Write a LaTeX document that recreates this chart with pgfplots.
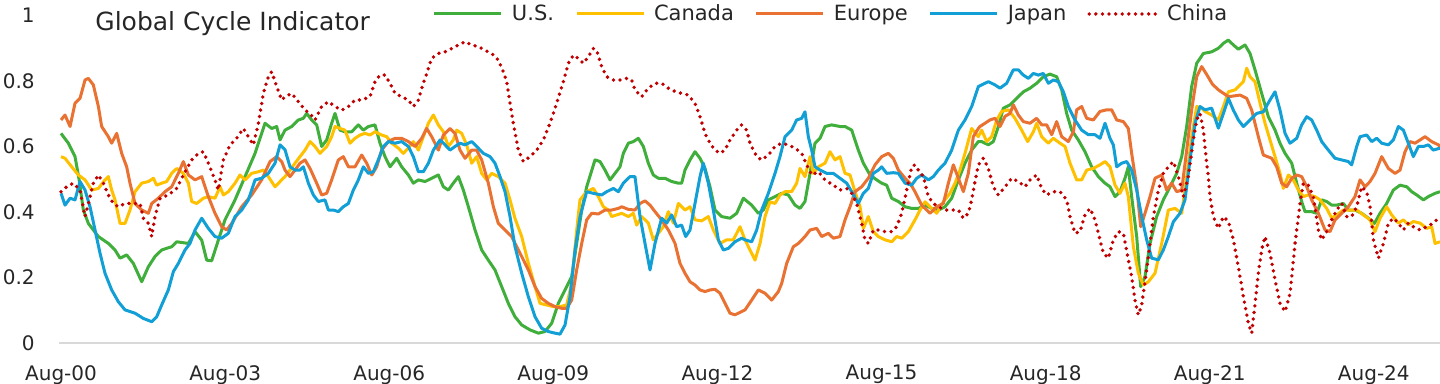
\documentclass[border=0pt]{standalone}
\usepackage{pgfplots}
\pgfplotsset{compat=1.18}
\usepackage{fontspec}
\setmainfont{DejaVu Sans}
\definecolor{cUS}{HTML}{3FAE3A}
\definecolor{cCA}{HTML}{FFC000}
\definecolor{cEU}{HTML}{E97132}
\definecolor{cJP}{HTML}{119FD6}
\definecolor{cCN}{HTML}{C00000}
\definecolor{cAx}{HTML}{D9D9D9}
\begin{document}
\begin{tikzpicture}
\useasboundingbox (0,0) rectangle (720pt,192pt);
\begin{axis}[
  at={(29.5pt,20.5pt)}, anchor=south west,
  scale only axis, width=690.5pt, height=163.75pt,
  xmin=-0.037, xmax=25.21, ymin=0, ymax=1,
  axis x line*=bottom, axis y line*=left,
  x axis line style={draw=cAx, line width=1.15pt},
  y axis line style={draw=none},
  major tick length=0pt, tick style={draw=none},
  xtick={0,3,6,9,12,15,18,21,24},
  xticklabels={Aug-00,Aug-03,Aug-06,Aug-09,Aug-12,Aug-15,Aug-18,Aug-21,Aug-24},
  ytick={0,0.2,0.4,0.6,0.8,1},
  yticklabels={0,0.2,0.4,0.6,0.8,1},
  xticklabel style={font=\fontsize{10pt}{12pt}\selectfont, inner sep=0pt, anchor=north, yshift=-11pt, text=black!85},
  yticklabel style={font=\fontsize{10pt}{12pt}\selectfont, inner sep=0pt, anchor=east, xshift=-12pt, text=black!85},
  clip=false,
  legend columns=-1,
  legend style={at={(axis description cs:0.2708,1.0046)}, anchor=west, draw=none, fill=none,
    inner sep=0pt, outer sep=0pt,
    font=\fontsize{10.5pt}{12pt}\selectfont, text=black!85,
    nodes={inner sep=0pt},
    /tikz/every odd column/.style={column sep=4.5pt},
    /tikz/every even column/.style={column sep=10.5pt}},
  legend image code/.code={\draw[#1] (0pt,0pt) -- (33.5pt,0pt);},
  every axis plot/.append style={line width=1.5pt, line join=round},
]
% U.S.
\addplot[color=cUS, sharp plot] table {
0 0.640
0.134 0.610
0.256 0.569
0.33 0.50
0.408 0.406
0.50 0.365
0.683 0.325
0.865 0.304
0.987 0.284
1.079 0.259
1.20 0.269
1.322 0.243
1.475 0.187
1.597 0.233
1.718 0.264
1.84 0.284
2.023 0.294
2.115 0.309
2.328 0.304
2.45 0.340
2.572 0.314
2.663 0.253
2.754 0.251
2.876 0.314
2.998 0.376
3.181 0.437
3.364 0.508
3.547 0.579
3.729 0.671
3.851 0.655
3.943 0.661
4.004 0.620
4.095 0.650
4.217 0.661
4.339 0.681
4.43 0.686
4.49 0.701
4.583 0.681
4.674 0.666
4.765 0.600
4.857 0.620
4.948 0.671
5.009 0.701
5.100 0.650
5.19 0.645
5.314 0.645
5.436 0.666
5.527 0.650
5.619 0.661
5.74 0.666
5.832 0.610
5.923 0.569
6.015 0.538
6.137 0.564
6.228 0.538
6.35 0.513
6.441 0.488
6.533 0.498
6.655 0.493
6.776 0.503
6.898 0.513
6.99 0.477
7.081 0.467
7.172 0.488
7.264 0.508
7.355 0.467
7.447 0.416
7.569 0.345
7.69 0.284
7.812 0.253
7.934 0.223
8.056 0.172
8.178 0.121
8.30 0.080
8.422 0.055
8.574 0.040
8.727 0.030
8.848 0.035
8.97 0.060
9.092 0.121
9.214 0.162
9.336 0.203
9.427 0.304
9.519 0.406
9.61 0.477
9.762 0.559
9.854 0.554
9.945 0.528
10.037 0.498
10.128 0.518
10.219 0.538
10.28 0.579
10.371 0.610
10.463 0.615
10.554 0.625
10.646 0.600
10.737 0.549
10.828 0.513
10.92 0.503
11.042 0.503
11.164 0.493
11.286 0.488
11.346 0.488
11.407 0.528
11.499 0.559
11.59 0.584
11.682 0.564
11.773 0.533
11.864 0.477
11.956 0.406
12.078 0.386
12.23 0.381
12.352 0.396
12.474 0.442
12.626 0.421
12.748 0.396
12.839 0.406
12.931 0.437
13.053 0.447
13.175 0.457
13.297 0.452
13.418 0.421
13.51 0.411
13.601 0.432
13.693 0.518
13.784 0.610
13.876 0.625
13.967 0.661
14.089 0.666
14.241 0.661
14.333 0.661
14.455 0.650
14.576 0.589
14.668 0.549
14.79 0.513
14.912 0.498
15.003 0.488
15.094 0.482
15.186 0.442
15.308 0.432
15.43 0.416
15.551 0.411
15.673 0.411
15.795 0.421
15.917 0.411
16.039 0.406
16.161 0.416
16.283 0.442
16.405 0.498
16.526 0.549
16.648 0.589
16.77 0.615
16.831 0.615
16.953 0.605
17.044 0.615
17.136 0.661
17.227 0.717
17.349 0.727
17.471 0.747
17.593 0.767
17.715 0.778
17.836 0.793
17.958 0.813
18.08 0.821
18.202 0.813
18.294 0.773
18.385 0.701
18.476 0.650
18.598 0.620
18.72 0.584
18.842 0.538
18.964 0.508
19.086 0.488
19.177 0.477
19.269 0.447
19.36 0.462
19.451 0.503
19.512 0.538
19.573 0.447
19.665 0.325
19.738 0.172
19.817 0.203
19.909 0.304
20.03 0.386
20.152 0.437
20.274 0.477
20.396 0.518
20.488 0.569
20.579 0.661
20.67 0.783
20.762 0.854
20.884 0.884
21.036 0.889
21.158 0.900
21.25 0.915
21.341 0.925
21.432 0.910
21.524 0.897
21.645 0.910
21.737 0.884
21.828 0.834
21.95 0.762
22.072 0.691
22.194 0.650
22.285 0.610
22.377 0.579
22.499 0.549
22.59 0.488
22.681 0.432
22.742 0.401
22.864 0.401
22.956 0.396
23.047 0.437
23.138 0.432
23.23 0.421
23.321 0.421
23.443 0.426
23.534 0.406
23.656 0.406
23.778 0.396
23.9 0.381
24.01 0.365
24.114 0.396
24.235 0.426
24.357 0.467
24.479 0.482
24.601 0.477
24.692 0.462
24.784 0.452
24.906 0.437
24.997 0.447
25.119 0.457
25.21 0.462
};
\addlegendentry{U.S.}
% Canada
\addplot[color=cCA, sharp plot] table {
0 0.569
0.073 0.564
0.195 0.538
0.317 0.513
0.439 0.498
0.561 0.467
0.683 0.472
0.804 0.498
0.865 0.508
0.926 0.467
0.987 0.437
1.079 0.365
1.17 0.365
1.261 0.406
1.353 0.462
1.475 0.488
1.597 0.493
1.688 0.503
1.749 0.482
1.84 0.488
1.932 0.493
2.023 0.518
2.115 0.533
2.236 0.518
2.328 0.488
2.389 0.432
2.48 0.426
2.602 0.442
2.693 0.447
2.815 0.442
2.907 0.477
2.968 0.452
3.059 0.462
3.181 0.488
3.272 0.513
3.364 0.498
3.486 0.518
3.608 0.523
3.699 0.528
3.79 0.508
3.912 0.477
4.034 0.498
4.095 0.508
4.186 0.528
4.278 0.549
4.369 0.569
4.461 0.589
4.552 0.615
4.643 0.600
4.735 0.579
4.857 0.600
4.948 0.630
5.009 0.661
5.1 0.655
5.19 0.650
5.283 0.610
5.375 0.625
5.466 0.635
5.558 0.640
5.649 0.635
5.74 0.645
5.862 0.635
5.954 0.630
6.045 0.610
6.167 0.595
6.258 0.579
6.35 0.595
6.441 0.615
6.533 0.589
6.624 0.630
6.716 0.671
6.807 0.696
6.898 0.666
6.99 0.645
7.081 0.600
7.172 0.620
7.233 0.650
7.325 0.640
7.416 0.605
7.508 0.549
7.599 0.569
7.69 0.518
7.782 0.498
7.873 0.518
7.995 0.508
8.117 0.488
8.208 0.437
8.30 0.380
8.422 0.325
8.544 0.243
8.666 0.172
8.757 0.121
8.879 0.116
9.0 0.111
9.122 0.111
9.244 0.116
9.336 0.182
9.427 0.345
9.488 0.437
9.61 0.462
9.732 0.472
9.823 0.447
9.915 0.416
10.006 0.406
10.067 0.386
10.158 0.391
10.25 0.396
10.371 0.386
10.463 0.396
10.524 0.360
10.615 0.386
10.737 0.366
10.828 0.315
10.92 0.335
11.011 0.355
11.103 0.401
11.194 0.366
11.286 0.426
11.407 0.406
11.499 0.416
11.59 0.376
11.712 0.373
11.834 0.386
11.925 0.345
12.047 0.304
12.169 0.315
12.291 0.315
12.413 0.355
12.504 0.315
12.596 0.284
12.687 0.253
12.779 0.304
12.87 0.386
12.961 0.431
13.053 0.426
13.144 0.452
13.236 0.462
13.357 0.462
13.449 0.488
13.51 0.533
13.601 0.508
13.693 0.569
13.754 0.518
13.845 0.538
13.967 0.549
14.058 0.584
14.15 0.559
14.241 0.569
14.333 0.518
14.424 0.513
14.515 0.462
14.607 0.416
14.668 0.350
14.759 0.386
14.85 0.340
14.942 0.325
15.064 0.315
15.186 0.309
15.277 0.325
15.369 0.320
15.49 0.340
15.612 0.376
15.704 0.406
15.795 0.431
15.887 0.416
16.009 0.396
16.13 0.431
16.252 0.457
16.344 0.488
16.435 0.528
16.526 0.579
16.648 0.655
16.77 0.630
16.831 0.650
16.922 0.615
17.014 0.630
17.105 0.681
17.197 0.707
17.319 0.712
17.44 0.686
17.562 0.650
17.672 0.615
17.776 0.645
17.836 0.671
17.928 0.630
18.05 0.610
18.141 0.625
18.263 0.610
18.355 0.600
18.446 0.549
18.568 0.498
18.659 0.498
18.751 0.528
18.872 0.533
18.994 0.544
19.086 0.554
19.177 0.538
19.269 0.482
19.36 0.457
19.451 0.488
19.512 0.447
19.604 0.294
19.695 0.213
19.787 0.177
19.878 0.187
20.0 0.213
20.122 0.304
20.244 0.406
20.366 0.411
20.488 0.396
20.579 0.508
20.67 0.630
20.762 0.722
20.853 0.717
20.914 0.707
21.036 0.696
21.158 0.681
21.25 0.722
21.341 0.767
21.463 0.773
21.554 0.788
21.615 0.798
21.676 0.839
21.737 0.813
21.828 0.798
21.92 0.732
22.011 0.671
22.102 0.620
22.194 0.569
22.285 0.518
22.346 0.472
22.438 0.513
22.529 0.498
22.62 0.467
22.712 0.447
22.803 0.452
22.925 0.447
23.017 0.437
23.138 0.411
23.23 0.381
23.321 0.391
23.443 0.406
23.565 0.406
23.687 0.406
23.809 0.391
23.931 0.376
24.022 0.340
24.114 0.381
24.235 0.416
24.327 0.391
24.449 0.366
24.54 0.376
24.631 0.361
24.723 0.371
24.845 0.366
24.967 0.350
25.058 0.355
25.119 0.304
25.21 0.309
};
\addlegendentry{Canada}
% Europe
\addplot[color=cEU, sharp plot] table {
0 0.681
0.073 0.696
0.165 0.661
0.256 0.732
0.347 0.747
0.439 0.803
0.50 0.808
0.591 0.788
0.683 0.722
0.743 0.661
0.865 0.630
0.926 0.610
1.018 0.640
1.109 0.579
1.20 0.538
1.261 0.488
1.353 0.426
1.475 0.406
1.597 0.396
1.658 0.426
1.779 0.442
1.901 0.462
2.023 0.477
2.145 0.518
2.236 0.554
2.328 0.513
2.45 0.498
2.572 0.508
2.693 0.447
2.815 0.396
2.937 0.355
3.029 0.345
3.12 0.365
3.303 0.416
3.486 0.452
3.668 0.498
3.821 0.554
3.943 0.569
4.034 0.554
4.095 0.528
4.186 0.508
4.278 0.528
4.369 0.549
4.461 0.559
4.552 0.533
4.674 0.488
4.765 0.452
4.857 0.457
4.948 0.498
5.07 0.559
5.161 0.569
5.253 0.538
5.375 0.538
5.497 0.574
5.588 0.549
5.68 0.513
5.771 0.538
5.862 0.589
5.984 0.615
6.106 0.625
6.228 0.625
6.35 0.615
6.472 0.600
6.594 0.625
6.685 0.655
6.776 0.630
6.898 0.589
6.99 0.635
7.111 0.655
7.203 0.640
7.294 0.589
7.386 0.564
7.508 0.589
7.599 0.589
7.69 0.559
7.812 0.488
7.904 0.416
7.995 0.365
8.117 0.345
8.239 0.325
8.30 0.304
8.422 0.264
8.544 0.223
8.666 0.172
8.787 0.136
8.909 0.121
9.031 0.111
9.153 0.106
9.244 0.106
9.336 0.131
9.427 0.223
9.519 0.304
9.61 0.376
9.701 0.396
9.823 0.394
9.945 0.406
10.067 0.406
10.189 0.411
10.25 0.416
10.371 0.408
10.493 0.406
10.585 0.426
10.676 0.434
10.768 0.421
10.859 0.401
10.98 0.376
11.103 0.345
11.225 0.304
11.316 0.243
11.407 0.213
11.499 0.187
11.59 0.177
11.682 0.162
11.773 0.157
11.864 0.162
11.956 0.164
12.047 0.152
12.139 0.121
12.23 0.091
12.32 0.086
12.443 0.096
12.505 0.101
12.626 0.131
12.748 0.162
12.87 0.152
12.992 0.131
13.114 0.157
13.175 0.182
13.266 0.243
13.388 0.294
13.48 0.304
13.601 0.325
13.693 0.345
13.815 0.350
13.906 0.325
14.028 0.335
14.119 0.320
14.241 0.325
14.333 0.376
14.424 0.416
14.515 0.462
14.637 0.477
14.759 0.503
14.881 0.544
15.003 0.569
15.125 0.579
15.216 0.564
15.308 0.528
15.43 0.503
15.521 0.488
15.612 0.462
15.734 0.421
15.887 0.396
16.009 0.416
16.13 0.426
16.222 0.488
16.313 0.544
16.405 0.503
16.496 0.462
16.587 0.518
16.678 0.630
16.77 0.655
16.8 0.661
16.892 0.671
16.983 0.681
17.075 0.686
17.166 0.661
17.258 0.692
17.349 0.701
17.41 0.727
17.501 0.696
17.593 0.676
17.715 0.671
17.836 0.686
17.928 0.666
18.019 0.666
18.111 0.636
18.202 0.676
18.294 0.630
18.415 0.615
18.507 0.645
18.568 0.712
18.659 0.722
18.751 0.686
18.872 0.681
18.994 0.707
19.116 0.712
19.208 0.712
19.299 0.681
19.421 0.676
19.512 0.655
19.573 0.579
19.665 0.477
19.738 0.355
19.817 0.396
19.909 0.447
20.0 0.503
20.122 0.513
20.213 0.467
20.305 0.488
20.396 0.462
20.488 0.467
20.579 0.589
20.67 0.712
20.762 0.813
20.853 0.844
20.944 0.820
21.05 0.790
21.158 0.773
21.341 0.752
21.554 0.757
21.676 0.747
21.767 0.711
21.889 0.630
21.98 0.574
22.133 0.564
22.224 0.538
22.316 0.488
22.407 0.477
22.499 0.503
22.59 0.513
22.681 0.508
22.773 0.477
22.864 0.437
22.986 0.396
23.108 0.345
23.199 0.340
23.291 0.376
23.413 0.396
23.534 0.416
23.656 0.447
23.748 0.498
23.839 0.477
23.931 0.493
24.022 0.518
24.144 0.569
24.266 0.533
24.388 0.518
24.479 0.528
24.57 0.584
24.662 0.615
24.753 0.610
24.845 0.620
24.936 0.630
25.058 0.615
25.18 0.605
25.21 0.600
};
\addlegendentry{Europe}
% Japan
\addplot[color=cJP, sharp plot] table {
0 0.457
0.073 0.421
0.165 0.442
0.256 0.437
0.347 0.493
0.439 0.467
0.53 0.416
0.622 0.345
0.713 0.274
0.804 0.213
0.926 0.162
1.048 0.126
1.17 0.101
1.353 0.091
1.505 0.075
1.658 0.065
1.749 0.080
1.84 0.116
1.962 0.162
2.054 0.218
2.145 0.243
2.267 0.284
2.358 0.304
2.45 0.345
2.572 0.381
2.693 0.350
2.815 0.325
2.937 0.320
3.059 0.335
3.181 0.386
3.303 0.406
3.425 0.437
3.547 0.498
3.668 0.503
3.79 0.518
3.912 0.549
4.004 0.605
4.095 0.590
4.186 0.538
4.278 0.528
4.369 0.528
4.43 0.538
4.522 0.488
4.613 0.452
4.704 0.432
4.826 0.437
4.887 0.406
4.978 0.406
5.07 0.401
5.161 0.416
5.253 0.426
5.344 0.467
5.436 0.498
5.527 0.538
5.619 0.518
5.71 0.523
5.80 0.559
5.893 0.600
5.984 0.615
6.106 0.610
6.228 0.615
6.35 0.600
6.441 0.569
6.533 0.523
6.624 0.523
6.716 0.549
6.807 0.589
6.929 0.620
7.02 0.605
7.111 0.589
7.203 0.600
7.294 0.610
7.386 0.605
7.508 0.615
7.599 0.600
7.721 0.579
7.843 0.569
7.934 0.549
8.026 0.508
8.117 0.462
8.208 0.386
8.30 0.294
8.422 0.213
8.544 0.141
8.666 0.080
8.787 0.045
8.909 0.035
9.031 0.030
9.122 0.027
9.214 0.055
9.305 0.141
9.397 0.284
9.488 0.386
9.61 0.462
9.732 0.457
9.884 0.452
9.976 0.462
10.098 0.472
10.189 0.462
10.28 0.488
10.402 0.508
10.493 0.508
10.585 0.386
10.676 0.304
10.768 0.223
10.859 0.304
10.98 0.381
11.072 0.366
11.164 0.391
11.255 0.355
11.346 0.360
11.42 0.325
11.499 0.345
11.59 0.426
11.682 0.508
11.742 0.549
11.834 0.488
11.925 0.406
12.017 0.315
12.108 0.284
12.2 0.289
12.32 0.309
12.443 0.320
12.505 0.315
12.626 0.309
12.718 0.345
12.809 0.406
12.931 0.457
13.053 0.518
13.144 0.569
13.236 0.630
13.357 0.650
13.449 0.681
13.541 0.686
13.601 0.706
13.662 0.630
13.723 0.589
13.784 0.538
13.876 0.528
13.997 0.518
14.119 0.518
14.241 0.503
14.363 0.488
14.455 0.462
14.576 0.426
14.668 0.457
14.759 0.472
14.85 0.518
14.942 0.528
15.003 0.538
15.094 0.518
15.216 0.520
15.308 0.518
15.43 0.488
15.551 0.482
15.643 0.503
15.734 0.513
15.856 0.498
15.947 0.508
16.039 0.528
16.161 0.549
16.283 0.589
16.405 0.650
16.526 0.681
16.648 0.722
16.77 0.783
16.831 0.788
16.953 0.798
17.075 0.788
17.166 0.778
17.288 0.793
17.41 0.834
17.501 0.834
17.593 0.818
17.684 0.808
17.776 0.823
17.867 0.818
17.958 0.823
18.05 0.793
18.141 0.803
18.233 0.798
18.324 0.767
18.415 0.722
18.537 0.681
18.659 0.650
18.781 0.636
18.903 0.636
18.994 0.625
19.086 0.671
19.177 0.625
19.238 0.605
19.299 0.538
19.391 0.549
19.482 0.554
19.573 0.528
19.665 0.467
19.756 0.386
19.848 0.315
19.939 0.259
20.061 0.254
20.152 0.284
20.244 0.325
20.335 0.370
20.457 0.396
20.548 0.437
20.64 0.559
20.731 0.671
20.822 0.722
20.914 0.712
21.036 0.717
21.158 0.656
21.25 0.701
21.341 0.747
21.432 0.711
21.524 0.681
21.615 0.661
21.737 0.681
21.859 0.701
21.98 0.706
22.102 0.742
22.194 0.767
22.285 0.711
22.377 0.640
22.468 0.610
22.59 0.625
22.681 0.666
22.773 0.691
22.864 0.681
22.956 0.650
23.047 0.615
23.169 0.589
23.291 0.564
23.413 0.559
23.534 0.554
23.595 0.544
23.687 0.600
23.748 0.630
23.87 0.635
23.961 0.615
24.053 0.625
24.144 0.610
24.266 0.605
24.357 0.620
24.449 0.661
24.54 0.650
24.631 0.610
24.723 0.569
24.814 0.600
24.906 0.600
24.997 0.605
25.088 0.589
25.21 0.595
};
\addlegendentry{Japan}
% China
\addplot[color=cCN, sharp plot, line width=1.9pt, line cap=round, dash pattern=on 0pt off 3.3pt] table {
0 0.462
0.104 0.477
0.225 0.488
0.347 0.467
0.439 0.386
0.50 0.426
0.591 0.488
0.683 0.513
0.774 0.488
0.865 0.452
0.957 0.426
1.048 0.416
1.17 0.426
1.353 0.426
1.444 0.426
1.505 0.381
1.597 0.365
1.658 0.325
1.718 0.386
1.81 0.442
1.962 0.452
2.115 0.472
2.236 0.513
2.389 0.559
2.511 0.579
2.602 0.584
2.693 0.549
2.815 0.498
2.876 0.467
2.968 0.559
3.09 0.605
3.211 0.625
3.333 0.655
3.425 0.630
3.516 0.605
3.608 0.671
3.699 0.762
3.79 0.813
3.851 0.828
3.943 0.783
4.034 0.742
4.095 0.752
4.217 0.762
4.339 0.737
4.461 0.711
4.552 0.701
4.643 0.681
4.765 0.722
4.887 0.737
5.009 0.722
5.131 0.711
5.253 0.722
5.375 0.742
5.497 0.742
5.649 0.752
5.74 0.798
5.832 0.818
5.923 0.818
6.015 0.793
6.106 0.762
6.228 0.752
6.35 0.742
6.441 0.722
6.533 0.742
6.594 0.778
6.685 0.823
6.776 0.869
6.898 0.884
7.02 0.889
7.142 0.899
7.264 0.910
7.386 0.920
7.508 0.910
7.63 0.905
7.751 0.894
7.873 0.884
7.995 0.864
8.087 0.828
8.148 0.798
8.208 0.732
8.269 0.671
8.361 0.589
8.452 0.554
8.574 0.569
8.696 0.589
8.818 0.620
8.94 0.671
9.061 0.732
9.183 0.798
9.275 0.854
9.366 0.879
9.458 0.869
9.549 0.854
9.64 0.874
9.732 0.899
9.793 0.894
9.884 0.844
9.976 0.813
10.098 0.803
10.219 0.803
10.341 0.808
10.432 0.803
10.493 0.773
10.615 0.752
10.737 0.778
10.859 0.793
10.98 0.793
11.103 0.778
11.225 0.768
11.346 0.762
11.468 0.757
11.59 0.732
11.682 0.691
11.773 0.640
11.864 0.610
11.956 0.589
12.047 0.579
12.139 0.589
12.23 0.620
12.352 0.650
12.443 0.666
12.535 0.650
12.596 0.610
12.718 0.569
12.809 0.559
12.931 0.574
13.053 0.600
13.175 0.610
13.297 0.605
13.418 0.595
13.541 0.579
13.632 0.544
13.723 0.513
13.845 0.523
13.967 0.498
14.119 0.482
14.241 0.467
14.363 0.472
14.455 0.457
14.546 0.426
14.637 0.365
14.698 0.315
14.759 0.304
14.85 0.345
14.942 0.345
15.064 0.340
15.186 0.340
15.277 0.355
15.369 0.396
15.46 0.467
15.551 0.538
15.612 0.544
15.673 0.528
15.765 0.508
15.856 0.447
15.947 0.426
16.039 0.416
16.161 0.406
16.283 0.406
16.405 0.406
16.496 0.381
16.587 0.396
16.648 0.437
16.709 0.493
16.77 0.544
16.861 0.564
16.953 0.533
17.044 0.477
17.136 0.452
17.258 0.477
17.38 0.503
17.501 0.493
17.623 0.477
17.715 0.498
17.836 0.513
17.928 0.472
18.019 0.452
18.141 0.462
18.263 0.462
18.385 0.437
18.446 0.386
18.537 0.335
18.629 0.340
18.72 0.391
18.812 0.411
18.903 0.376
18.994 0.315
19.056 0.274
19.147 0.259
19.238 0.315
19.33 0.340
19.421 0.335
19.512 0.254
19.573 0.203
19.634 0.131
19.695 0.086
19.756 0.116
19.817 0.187
19.878 0.264
19.97 0.386
20.061 0.467
20.152 0.518
20.244 0.538
20.335 0.554
20.427 0.508
20.518 0.447
20.609 0.508
20.701 0.620
20.762 0.681
20.822 0.701
20.884 0.650
20.944 0.549
20.975 0.508
21.005 0.447
21.066 0.386
21.158 0.350
21.25 0.386
21.341 0.371
21.432 0.315
21.524 0.233
21.615 0.142
21.706 0.060
21.767 0.030
21.816 0.101
21.889 0.213
21.95 0.285
22.011 0.325
22.102 0.274
22.194 0.193
22.285 0.121
22.377 0.096
22.468 0.150
22.56 0.304
22.651 0.426
22.712 0.488
22.803 0.482
22.895 0.447
22.986 0.345
23.047 0.315
23.138 0.340
23.23 0.376
23.321 0.406
23.413 0.426
23.504 0.386
23.595 0.386
23.687 0.416
23.778 0.477
23.87 0.462
23.931 0.416
23.992 0.315
24.083 0.259
24.175 0.304
24.266 0.366
24.357 0.381
24.449 0.366
24.54 0.345
24.631 0.366
24.723 0.355
24.845 0.345
24.967 0.355
25.088 0.366
25.18 0.381
};
\addlegendentry{China}
\end{axis}
\node[anchor=base west, inner sep=0pt, font=\fontsize{12.5pt}{14pt}\selectfont, text=black!85] at (47.5pt,176.5pt) {Global Cycle Indicator};
\end{tikzpicture}
\end{document}
